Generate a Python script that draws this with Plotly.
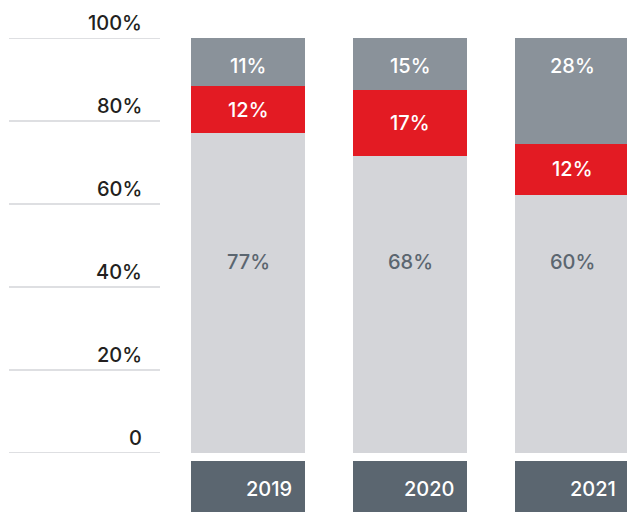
import plotly.graph_objects as go

# ---- data ----
years = ["2019", "2020", "2021"]
# segment heights as drawn (percent of bar)
base_vals = [77.1, 71.6, 62.2]
red_vals = [11.3, 15.9, 12.3]
top_vals = [11.6, 12.5, 25.5]
# printed labels
base_labels = ["77%", "68%", "60%"]
red_labels = ["12%", "17%", "12%"]
top_labels = ["11%", "15%", "28%"]
tick_vals = [0, 20, 40, 60, 80, 100]
tick_text = ["0", "20%", "40%", "60%", "80%", "100%"]

# ---- style ----
C_BASE = "#d4d5d9"
C_RED = "#e31b23"
C_TOP = "#8a929a"
C_BOX = "#5b6670"
C_GRID = "#d3d5d9"
FONT = "Inter"
W, H = 627, 512

fig = go.Figure()
for vals, col in [(base_vals, C_BASE), (red_vals, C_RED), (top_vals, C_TOP)]:
    fig.add_trace(go.Bar(x=years, y=vals, marker=dict(color=col, line=dict(width=0)),
                         xaxis="x", yaxis="y", hoverinfo="skip", showlegend=False))
# year boxes
fig.add_trace(go.Bar(x=years, y=[1] * len(years), marker=dict(color=C_BOX, line=dict(width=0)),
                     xaxis="x", yaxis="y2", hoverinfo="skip", showlegend=False))

ann = []
for i, yr in enumerate(years):
    total = base_vals[i] + red_vals[i] + top_vals[i]
    # top (gray) label
    ann.append(dict(x=i, y=total, xref="x", yref="y", text=top_labels[i], showarrow=False,
                    yanchor="middle", yshift=-28,
                    font=dict(family=FONT, size=20, color="white", weight=500)))
    # red label, centered in segment
    ann.append(dict(x=i, y=base_vals[i] + red_vals[i] / 2, xref="x", yref="y", text=red_labels[i],
                    showarrow=False, yanchor="middle",
                    font=dict(family=FONT, size=20, color="white", weight=500)))
    # base label at fixed height
    ann.append(dict(x=i, y=46, xref="x", yref="y", text=base_labels[i], showarrow=False,
                    yanchor="middle",
                    font=dict(family=FONT, size=20, color=C_BOX, weight=500)))
    # year label
    ann.append(dict(x=i, y=0.5, xref="x", yref="y2", text=yr, showarrow=False,
                    xanchor="right", yanchor="middle", xshift=46, yshift=-2,
                    font=dict(family=FONT, size=20, color="white", weight=500)))

shapes = []
for tv, tt in zip(tick_vals, tick_text):
    shapes.append(dict(type="line", xref="paper", yref="y", x0=9 / W, x1=160 / W, y0=tv, y1=tv,
                       line=dict(color=C_GRID, width=1.5)))
    ann.append(dict(x=144 / W, y=tv, xref="paper", yref="y", text=tt, showarrow=False,
                    xanchor="right", yanchor="middle", yshift=15,
                    font=dict(family=FONT, size=20, color="#231f20", weight=500)))

px_per_cat = 162.0
c0 = 248.0
fig.update_layout(
    width=W, height=H,
    margin=dict(l=0, r=0, t=0, b=0),
    paper_bgcolor="white", plot_bgcolor="white",
    barmode="stack", bargap=1 - 114 / px_per_cat,
    xaxis=dict(type="category", range=[-c0 / px_per_cat, (W - c0) / px_per_cat],
               domain=[0, 1], visible=False, fixedrange=True),
    yaxis=dict(range=[0, 100], domain=[(H - 453) / H, (H - 38) / H], visible=False,
               fixedrange=True),
    yaxis2=dict(range=[0, 1], domain=[0, (H - 461) / H], visible=False, fixedrange=True),
    annotations=ann, shapes=shapes,
    font=dict(family=FONT),
)

fig.write_html("out.html", config={"displayModeBar": False},
               post_script="document.body.style.margin='0';document.body.style.overflow='hidden';")
